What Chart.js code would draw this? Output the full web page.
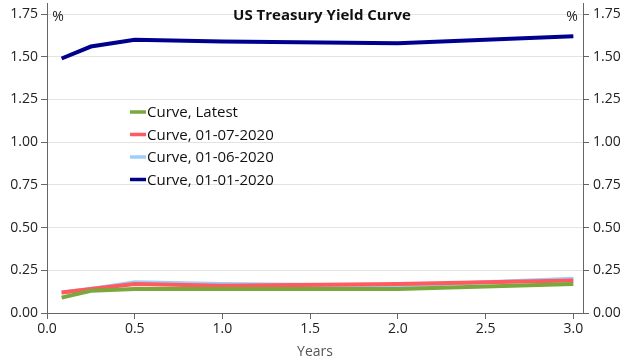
<!DOCTYPE html>
<html>
<head>
<meta charset="utf-8">
<script src="https://cdn.jsdelivr.net/npm/chart.js@4"></script>
<style>
  html, body { margin: 0; padding: 0; background: #fff; }
  #wrap { width: 640px; height: 360px; }
</style>
</head>
<body>
<div id="wrap"><canvas id="chart" width="640" height="360"></canvas></div>
<script>
// ================= DATA =================
const maturities = [1 / 12, 0.25, 0.5, 1, 2, 3];
const seriesNames = ["Curve, Latest", "Curve, 01-07-2020", "Curve, 01-06-2020", "Curve, 01-01-2020"];
const latest = [0.09, 0.13, 0.14, 0.14, 0.14, 0.17];
const jan07 = [0.12, 0.14, 0.17, 0.16, 0.17, 0.19];
const jan06 = [0.12, 0.14, 0.18, 0.17, 0.16, 0.20];
const jan01 = [1.49, 1.56, 1.60, 1.59, 1.58, 1.62];
const seriesColors = ["#7aa83c", "#ff5a5f", "#9fcdfb", "#00008f"];
const yTicks = [0, 0.25, 0.5, 0.75, 1, 1.25, 1.5, 1.75];
const xTicks = [0, 0.5, 1, 1.5, 2, 2.5, 3];

const FONT = "'Open Sans', 'Noto Sans', sans-serif";
const allSeries = [latest, jan07, jan06, jan01];

const datasets = allSeries.map((vals, i) => ({
    label: seriesNames[i],
    data: vals.map((v, j) => ({ x: maturities[j], y: v })),
    borderColor: seriesColors[i],
    backgroundColor: seriesColors[i],
    borderWidth: 4,
    pointRadius: 0,
    tension: 0
}));

// ================= OVERLAY TEXT + LEGEND =================
const overlayPlugin = {
    id: "overlay",
    afterDraw(chart) {
        const ctx = chart.ctx;
        const area = chart.chartArea;
        ctx.save();
        ctx.fillStyle = "#111";
        ctx.font = "bold 15px " + FONT;
        ctx.textAlign = "center";
        ctx.textBaseline = "middle";
        ctx.fillText("US Treasury Yield Curve", 322, 16);

        ctx.font = "14px " + FONT;
        ctx.fillStyle = "#222";
        ctx.fillText("%", area.left + 11, 17);
        ctx.fillText("%", area.right - 11, 17);

        // legend
        ctx.textAlign = "left";
        ctx.font = "15px " + FONT;
        const lx = 130, ly = 112, step = 22.5;
        seriesNames.forEach((name, i) => {
            const y = ly + i * step;
            ctx.strokeStyle = seriesColors[i];
            ctx.lineWidth = 3.5;
            ctx.beginPath();
            ctx.moveTo(lx, y);
            ctx.lineTo(lx + 16, y);
            ctx.stroke();
            ctx.fillStyle = "#111";
            ctx.fillText(name, lx + 17, y + 1);
        });
        ctx.restore();
    }
};

// trims the automatic label padding so the axis reaches the top like the original
const trimTop = s => { s.paddingTop = 3; };

// ================= CHART =================
new Chart(document.getElementById("chart").getContext("2d"), {
    type: "line",
    data: { datasets },
    options: {
        responsive: false,
        animation: false,
        plugins: {
            legend: { display: false },
            tooltip: { enabled: false }
        },
        scales: {
            x: {
                type: "linear",
                min: 0,
                max: 3.055,
                afterBuildTicks: s => { s.ticks = xTicks.map(v => ({ value: v })); },
                afterFit: s => { s.height = 47; },
                ticks: {
                    color: "#222",
                    font: { family: FONT, size: 14 },
                    padding: 2,
                    maxRotation: 0,
                    callback: v => v.toFixed(1)
                },
                grid: { drawOnChartArea: false, tickLength: 6, color: "#666" },
                border: { color: "#666" },
                title: {
                    display: true,
                    text: "Years",
                    color: "#555",
                    font: { family: FONT, size: 14 },
                    padding: { top: 0, bottom: 0 }
                }
            },
            y: {
                position: "left",
                min: 0,
                max: 1.815,
                afterBuildTicks: s => { s.ticks = yTicks.map(v => ({ value: v })); },
                afterFit: s => { s.width = 47; trimTop(s); },
                ticks: {
                    color: "#222",
                    font: { family: FONT, size: 14 },
                    padding: 3,
                    callback: v => v.toFixed(2)
                },
                grid: { color: "#e3e3e3", tickColor: "#666", tickLength: 6 },
                border: { color: "#666" }
            },
            y2: {
                position: "right",
                min: 0,
                max: 1.815,
                afterBuildTicks: s => { s.ticks = yTicks.map(v => ({ value: v })); },
                afterFit: s => { s.width = 57; trimTop(s); },
                ticks: {
                    color: "#222",
                    font: { family: FONT, size: 14 },
                    padding: 4,
                    callback: v => v.toFixed(2)
                },
                grid: { drawOnChartArea: false, tickLength: 6, color: "#666" },
                border: { color: "#666" }
            }
        }
    },
    plugins: [overlayPlugin]
});
</script>
</body>
</html>
